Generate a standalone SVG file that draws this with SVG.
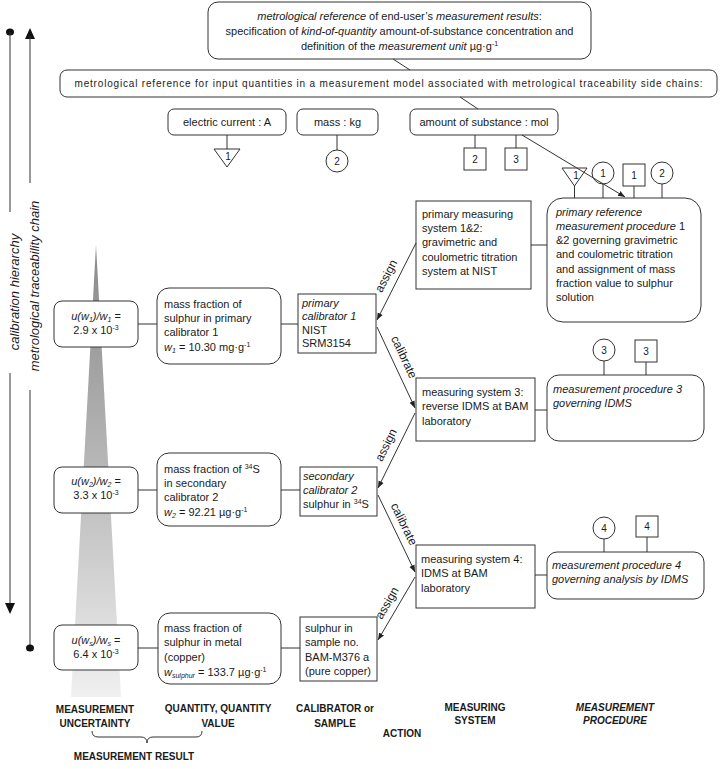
<svg xmlns="http://www.w3.org/2000/svg" width="721" height="769" viewBox="0 0 721 769">
<style>
text{font-family:"Liberation Sans",Arial,sans-serif;font-size:11px;fill:#1a1a1a}
.i{font-style:italic}
.c{text-anchor:middle}
.sm{font-size:10px}
.cl{font-size:12px;text-anchor:middle}
.lab{font-size:10px;font-weight:bold;text-anchor:middle}
.ax{font-size:13px;font-style:italic;text-anchor:middle}
.box{fill:#fff;stroke:#333;stroke-width:1}
.ln{stroke:#333;stroke-width:1;fill:none}
.sup{font-size:7px}
</style>
<defs>
<linearGradient id="gr" gradientUnits="userSpaceOnUse" x1="0" y1="245" x2="0" y2="697">
<stop offset="0" stop-color="#8a8a8a"/>
<stop offset="0.5" stop-color="#b8b8b8"/>
<stop offset="1" stop-color="#f0f0f0"/>
</linearGradient>
<marker id="ah" viewBox="0 0 10 10" refX="10" refY="5" markerWidth="7" markerHeight="7" orient="auto">
<path d="M0,1 L10,5 L0,9 z" fill="#222"/>
</marker>
</defs>

<!-- uncertainty gradient wedge -->
<polygon points="96,245 121,697 71,697" fill="url(#gr)"/>

<!-- axes -->
<g id="axis-calibration-hierarchy">
<ellipse cx="10" cy="32" rx="4" ry="3.5" fill="#111"/>
<line class="ln" x1="10" y1="32" x2="10" y2="212"/>
<line class="ln" x1="10" y1="373" x2="10" y2="606"/>
<polygon points="5,603 15,603 10,614" fill="#111"/>
<text class="ax" transform="translate(19,292) rotate(-90)">calibration hierarchy</text>
</g>
<g id="axis-traceability-chain">
<polygon points="25,39 35,39 30,28" fill="#111"/>
<line class="ln" x1="30" y1="36" x2="30" y2="183"/>
<line class="ln" x1="30" y1="390" x2="30" y2="648"/>
<ellipse cx="30" cy="648" rx="4" ry="3.5" fill="#111"/>
<text class="ax" transform="translate(39,286) rotate(-90)">metrological traceability chain</text>
</g>

<!-- top references -->
<g id="ref-top">
<rect class="box" x="208" y="2" width="383" height="57" rx="10"/>
<text class="c" x="399.5" y="20"><tspan class="i">metrological reference</tspan> of end-user’s <tspan class="i">measurement results</tspan>:</text>
<text class="c" x="399.5" y="35">specification of <tspan class="i">kind-of-quantity</tspan> amount-of-substance concentration and</text>
<text class="c" x="399.5" y="50">definition of the <tspan class="i">measurement unit</tspan> µg·g<tspan class="sup" dy="-4">-1</tspan></text>
</g>
<g id="ref-input">
<rect class="box" x="60" y="70" width="657" height="27" rx="7"/>
<text class="c sm" x="388.5" y="87" textLength="628" lengthAdjust="spacing">metrological reference for input quantities in  a measurement model associated with metrological traceability side chains:</text>
</g>
<g id="unit-ampere">
<rect class="box" x="168" y="109" width="118" height="26" rx="6"/>
<text class="c" x="227" y="126">electric current : A</text>
<line class="ln" x1="227" y1="135" x2="227" y2="149"/>
<polygon class="box" points="214,149 240,149 227,167"/>
<text class="c sm" x="228" y="160">1</text>
</g>
<g id="unit-kg">
<rect class="box" x="297" y="109" width="81" height="26" rx="6"/>
<text class="c" x="337.5" y="126">mass : kg</text>
<line class="ln" x1="337" y1="135" x2="337" y2="150"/>
<circle class="box" cx="337" cy="161" r="11"/>
<text class="c sm" x="337" y="165">2</text>
</g>
<g id="unit-mol">
<rect class="box" x="410" y="109" width="148" height="26" rx="6"/>
<text class="c" x="484" y="126">amount of substance : mol</text>
<line class="ln" x1="475" y1="135" x2="475" y2="148"/>
<rect class="box" x="464" y="148" width="22" height="22"/>
<text class="c sm" x="475" y="163">2</text>
<line class="ln" x1="516" y1="135" x2="516" y2="148"/>
<rect class="box" x="505" y="148" width="22" height="22"/>
<text class="c sm" x="516" y="163">3</text>
</g>

<!-- measurement uncertainty column -->
<g id="u1">
<rect class="box" x="54" y="301" width="84" height="46" rx="8"/>
<text class="c" x="96" y="320"><tspan class="i">u(w<tspan class="sup" dy="2">1</tspan><tspan dy="-2">)/w</tspan><tspan class="sup" dy="2">1</tspan></tspan><tspan dy="-2"> =</tspan></text>
<text class="c" x="96" y="334">2.9 x 10<tspan class="sup" dy="-4">-3</tspan></text>
</g>
<g id="u2">
<rect class="box" x="54" y="467" width="84" height="46" rx="8"/>
<text class="c" x="96" y="485"><tspan class="i">u(w<tspan class="sup" dy="2">2</tspan><tspan dy="-2">)/w</tspan><tspan class="sup" dy="2">2</tspan></tspan><tspan dy="-2"> =</tspan></text>
<text class="c" x="96" y="499">3.3 x 10<tspan class="sup" dy="-4">-3</tspan></text>
</g>
<g id="us">
<rect class="box" x="54" y="625" width="84" height="45" rx="8"/>
<text class="c" x="96" y="644"><tspan class="i">u(w<tspan class="sup" dy="2">s</tspan><tspan dy="-2">)/w</tspan><tspan class="sup" dy="2">s</tspan></tspan><tspan dy="-2"> =</tspan></text>
<text class="c" x="96" y="658">6.4 x 10<tspan class="sup" dy="-4">-3</tspan></text>
</g>

<!-- quantity value column -->
<g id="q1">
<rect class="box" x="157" y="288" width="124" height="76" rx="12"/>
<text x="164" y="308">mass fraction of</text>
<text x="164" y="322">sulphur in primary</text>
<text x="164" y="336">calibrator 1</text>
<text x="164" y="351"><tspan class="i">w</tspan><tspan class="sup i" dy="2">1</tspan><tspan dy="-2"> = 10.30 mg·g</tspan><tspan class="sup" dy="-4">-1</tspan></text>
</g>
<g id="q2">
<rect class="box" x="157" y="453" width="124" height="73" rx="12"/>
<text x="164" y="473">mass fraction of <tspan class="sup" dy="-4">34</tspan><tspan dy="4">S</tspan></text>
<text x="164" y="487">in secondary</text>
<text x="164" y="501">calibrator 2</text>
<text x="164" y="516"><tspan class="i">w</tspan><tspan class="sup i" dy="2">2</tspan><tspan dy="-2"> = 92.21 µg·g</tspan><tspan class="sup" dy="-4">-1</tspan></text>
</g>
<g id="qs">
<rect class="box" x="158" y="613" width="123" height="71" rx="12"/>
<text x="164" y="632">mass fraction of</text>
<text x="164" y="646">sulphur in metal</text>
<text x="164" y="661">(copper)</text>
<text x="164" y="676"><tspan class="i">w</tspan><tspan class="sup i" dy="2">sulphur</tspan><tspan dy="-2"> = 133.7 µg·g</tspan><tspan class="sup" dy="-4">-1</tspan></text>
</g>

<!-- calibrator / sample column -->
<g id="cal1">
<rect class="box" x="298" y="294" width="78" height="59"/>
<text class="i" x="302" y="307">primary</text>
<text class="i" x="302" y="320">calibrator 1</text>
<text x="302" y="334">NIST</text>
<text x="302" y="347">SRM3154</text>
</g>
<g id="cal2">
<rect class="box" x="300" y="467" width="77" height="49"/>
<text class="i" x="303" y="480">secondary</text>
<text class="i" x="303" y="494">calibrator 2</text>
<text x="303" y="508">sulphur in <tspan class="sup" dy="-4">34</tspan><tspan dy="4">S</tspan></text>
</g>
<g id="sample">
<rect class="box" x="300" y="617" width="77" height="64"/>
<text x="305" y="632">sulphur in</text>
<text x="305" y="646">sample no.</text>
<text x="305" y="661">BAM-M376 a</text>
<text x="305" y="675">(pure copper)</text>
</g>

<!-- measuring systems -->
<g id="ms12">
<rect class="box" x="416" y="201" width="115" height="88"/>
<text x="422" y="218">primary measuring</text>
<text x="422" y="232">system 1&amp;2:</text>
<text x="422" y="246">gravimetric and</text>
<text x="422" y="261">coulometric titration</text>
<text x="422" y="275">system at NIST</text>
</g>
<g id="ms3">
<rect class="box" x="416" y="378" width="119" height="63"/>
<text x="422" y="396">measuring system 3:</text>
<text x="422" y="410">reverse IDMS at BAM</text>
<text x="422" y="425">laboratory</text>
</g>
<g id="ms4">
<rect class="box" x="416" y="545" width="119" height="63"/>
<text x="421" y="563">measuring system 4:</text>
<text x="421" y="577">IDMS at BAM</text>
<text x="421" y="592">laboratory</text>
</g>

<!-- measurement procedures -->
<g id="proc12">
<polygon class="box" points="562,168 587,168 574.5,186"/>
<text class="c sm" x="576" y="179">1</text>
<line class="ln" x1="574.5" y1="186" x2="574.5" y2="198"/>
<circle class="box" cx="603" cy="173" r="11"/>
<text class="c sm" x="603" y="177">1</text>
<line class="ln" x1="603" y1="184" x2="603" y2="198"/>
<rect class="box" x="623" y="164" width="22" height="22"/>
<text class="c sm" x="634" y="179">1</text>
<line class="ln" x1="634" y1="186" x2="634" y2="198"/>
<circle class="box" cx="662" cy="173" r="11"/>
<text class="c sm" x="662" y="177">2</text>
<line class="ln" x1="662" y1="184" x2="662" y2="198"/>
<rect class="box" x="547" y="198" width="154" height="124" rx="16"/>
<text class="i" x="556" y="216">primary reference</text>
<text x="556" y="230"><tspan class="i">measurement procedure</tspan> 1</text>
<text x="556" y="244">&amp;2 governing gravimetric</text>
<text x="556" y="258">and coulometric titration</text>
<text x="556" y="273">and assignment of mass</text>
<text x="556" y="287">fraction value to sulphur</text>
<text x="556" y="301">solution</text>
</g>
<g id="proc3">
<circle class="box" cx="604" cy="350" r="11"/>
<text class="c sm" x="604" y="354">3</text>
<line class="ln" x1="604" y1="361" x2="604" y2="375"/>
<rect class="box" x="635" y="340" width="22" height="22"/>
<text class="c sm" x="646" y="355">3</text>
<line class="ln" x1="646" y1="362" x2="646" y2="375"/>
<rect class="box" x="547" y="375" width="157" height="66" rx="12"/>
<text class="i" x="553" y="393">measurement procedure 3</text>
<text class="i" x="553" y="407">governing IDMS</text>
</g>
<g id="proc4">
<circle class="box" cx="604" cy="528" r="11"/>
<text class="c sm" x="604" y="532">4</text>
<line class="ln" x1="604" y1="539" x2="604" y2="552"/>
<rect class="box" x="636" y="516" width="22" height="21"/>
<text class="c sm" x="647" y="530">4</text>
<line class="ln" x1="647" y1="537" x2="647" y2="552"/>
<rect class="box" x="547" y="552" width="157" height="47" rx="10"/>
<text class="i" x="552" y="569">measurement procedure 4</text>
<text class="i" x="552" y="583">governing analysis by IDMS</text>
</g>

<!-- connectors -->
<g id="connectors">
<line class="ln" x1="393" y1="59" x2="410" y2="70"/>
<line class="ln" x1="460" y1="97" x2="478" y2="109"/>
<line class="ln" x1="522" y1="135" x2="625" y2="197" marker-end="url(#ah)"/>
<line class="ln" x1="138" y1="324" x2="157" y2="324"/>
<line class="ln" x1="281" y1="324" x2="298" y2="324"/>
<line class="ln" x1="138" y1="490" x2="157" y2="490"/>
<line class="ln" x1="281" y1="490" x2="300" y2="490"/>
<line class="ln" x1="138" y1="648" x2="158" y2="648"/>
<line class="ln" x1="281" y1="648" x2="300" y2="648"/>
<line class="ln" x1="531" y1="245" x2="547" y2="245"/>
<line class="ln" x1="535" y1="410" x2="547" y2="410"/>
<line class="ln" x1="535" y1="575" x2="547" y2="575"/>
<line class="ln" x1="416" y1="243" x2="377" y2="320" marker-end="url(#ah)"/>
<line class="ln" x1="377" y1="327" x2="415" y2="408" marker-end="url(#ah)"/>
<line class="ln" x1="415" y1="413" x2="378" y2="488" marker-end="url(#ah)"/>
<line class="ln" x1="378" y1="495" x2="415" y2="572" marker-end="url(#ah)"/>
<line class="ln" x1="415" y1="577" x2="378" y2="640" marker-end="url(#ah)"/>
<text class="cl" transform="translate(386,276) rotate(-63)" y="4">assign</text>
<text class="cl" transform="translate(404,357) rotate(65)" y="4">calibrate</text>
<text class="cl" transform="translate(386,445) rotate(-64)" y="4">assign</text>
<text class="cl" transform="translate(404,524) rotate(64)" y="4">calibrate</text>
<text class="cl" transform="translate(387,603) rotate(-60)" y="4">assign</text>
</g>

<!-- column labels -->
<g id="labels">
<text class="lab" x="95" y="713">MEASUREMENT</text>
<text class="lab" x="95" y="727">UNCERTAINTY</text>
<text class="lab" x="218" y="712">QUANTITY, QUANTITY</text>
<text class="lab" x="218" y="727">VALUE</text>
<text class="lab" x="335" y="712">CALIBRATOR or</text>
<text class="lab" x="335" y="727">SAMPLE</text>
<text class="lab" x="402" y="737">ACTION</text>
<text class="lab" x="475" y="711">MEASURING</text>
<text class="lab" x="475" y="724">SYSTEM</text>
<text class="lab i" x="615" y="711">MEASUREMENT</text>
<text class="lab i" x="615" y="724">PROCEDURE</text>
<path class="ln" d="M92,731 Q92,737 98,737 L141,737 Q147,737 147,743 Q147,737 153,737 L196,737 Q202,737 202,731"/>
<text class="lab" x="134" y="760">MEASUREMENT RESULT</text>
</g>
</svg>
